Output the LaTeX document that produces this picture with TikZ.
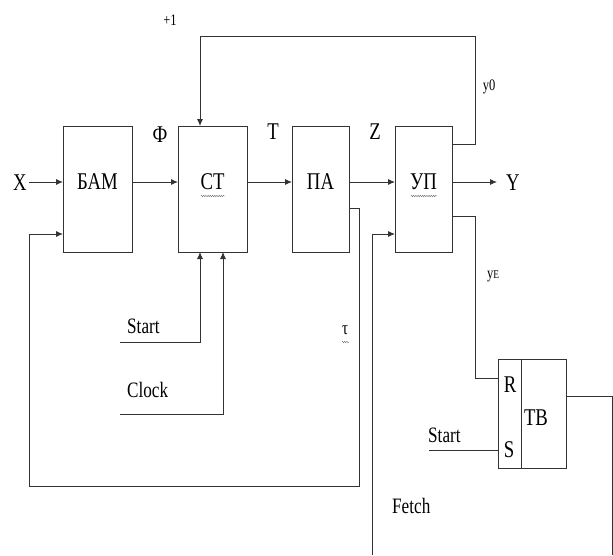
\documentclass[tikz,border=0pt]{standalone}
\usepackage{fontspec}
\usepackage{graphicx}
\setmainfont{Liberation Serif}
\usetikzlibrary{arrows.meta,decorations.pathmorphing}
\newcommand{\sq}[1]{\scalebox{0.78}[1]{#1}}
\begin{document}
\begin{tikzpicture}[x=1pt,y=-1pt,
  wire/.style={draw=black!80,line width=0.9pt},
  arr/.style={wire,-{Latex[length=7pt,width=6pt]}},
  blk/.style={draw=black!80,line width=0.9pt,inner sep=0pt,anchor=north west},
  big/.style={inner sep=0pt,font=\fontsize{24}{24}\selectfont},
  mid/.style={inner sep=0pt,anchor=base west,font=\fontsize{22}{22}\selectfont},
  small/.style={inner sep=0pt,font=\fontsize{16}{16}\selectfont},
  squig/.style={draw=black!55,line width=0.4pt,decorate,decoration={zigzag,amplitude=0.8pt,segment length=2.2pt}}]
\useasboundingbox (0,0) rectangle (613,555);
% blocks
\node[blk,minimum width=69pt,minimum height=126pt] (bam) at (63,126) {};
\node[blk,minimum width=69pt,minimum height=126pt] (ct) at (178,126) {};
\node[blk,minimum width=57pt,minimum height=126pt] (pa) at (292,126) {};
\node[blk,minimum width=57pt,minimum height=126pt] (up) at (395,126) {};
\node[blk,minimum width=68pt,minimum height=109pt] (tb) at (498,359) {};
\coordinate (tbdivt) at (521,359);
\coordinate (tbdivb) at (521,468);
\draw[wire] (tbdivt) -- (tbdivb);
% block texts
\node[big] (tbam) at (97.5,182) {\sq{БАМ}};
\node[big] (tct) at (212.5,182) {\sq{СТ}};
\node[big] (tpa) at (320.5,182) {\sq{ПА}};
\node[big] (tup) at (423.5,182) {\sq{УП}};
\node[big] (ttb) at (536,418) {\sq{ТВ}};
\node[big] (tr) at (510,385) {\sq{R}};
\node[big] (ts) at (509,450) {\sq{S}};
% squiggles
\coordinate (sq1a) at (201,196); \coordinate (sq1b) at (225,196);
\coordinate (sq2a) at (411,196); \coordinate (sq2b) at (437,196);
\coordinate (sq3a) at (342,342); \coordinate (sq3b) at (349,342);
\path[squig] (sq1a) -- (sq1b);
\path[squig] (sq2a) -- (sq2b);
\path[squig] (sq3a) -- (sq3b);
% signal labels
\node[big] (lx) at (20,183) {\sq{X}};
\node[big] (ly) at (513,183) {\sq{Y}};
\node[big] (lphi) at (160,135) {\sq{Ф}};
\node[big] (lt) at (273,132) {\sq{T}};
\node[big] (lz) at (375,132) {\sq{Z}};
\node[small] (lp1) at (170,20) {\sq{+1}};
\node[small] (ly0) at (489,87) {\sq{y0}};
\node[small] (lye) at (493,276) {\sq{y\fontsize{12}{12}\selectfont E}};
\node[big] (ltau) at (345,330) {\sq{\fontsize{19}{19}\selectfont τ}};
\node[mid] (lstart) at (127,333) {\sq{Start}};
\node[mid] (lclock) at (127,397) {\sq{Clock}};
\node[mid] (lstart2) at (428,442) {\sq{Start}};
\node[mid] (lfetch) at (392,513) {\sq{Fetch}};
% coordinates
\coordinate (xin) at (29,182);
\coordinate (yout) at (497,182);
\coordinate (fbtop) at (475,36);
\coordinate (y0src) at (452,144);
\coordinate (ctin) at (200,126);
\coordinate (pasrc) at (349,208);
\coordinate (fb2a) at (359,486);
\coordinate (fb2b) at (29,234);
\coordinate (fetchbot) at (372,555);
\coordinate (fetchin) at (372,234);
\coordinate (yesrc) at (452,216);
\coordinate (yecorner) at (475,378);
\coordinate (startTB) at (429,450);
\coordinate (tbout) at (566,396);
\coordinate (tbbot) at (612,555);
\coordinate (startCT) at (120,342);
\coordinate (clockCT) at (120,414);
\coordinate (ctin1) at (200,252);
\coordinate (ctin2) at (223,252);
% connectors
\draw[arr] (xin) -- (xin -| bam.west);
\draw[arr] (bam.east |- xin) -- (ct.west |- xin);
\draw[arr] (ct.east |- xin) -- (pa.west |- xin);
\draw[arr] (pa.east |- xin) -- (up.west |- xin);
\draw[arr] (up.east |- xin) -- (yout);
\draw[arr] (y0src) -| (fbtop) -| (ctin);
\draw[arr] (pasrc) -| (fb2a) -| (fb2b) -- (fb2b -| bam.west);
\draw[arr] (fetchbot) -- (fetchin) -- (fetchin -| up.west);
\draw[wire] (yesrc) -| (yecorner) -- (yecorner -| tb.west);
\draw[wire] (startTB) -- (startTB -| tb.west);
\draw[wire] (tbout) -| (tbbot);
\draw[arr] (startCT) -| (ctin1);
\draw[arr] (clockCT) -| (ctin2);
\end{tikzpicture}
\end{document}
